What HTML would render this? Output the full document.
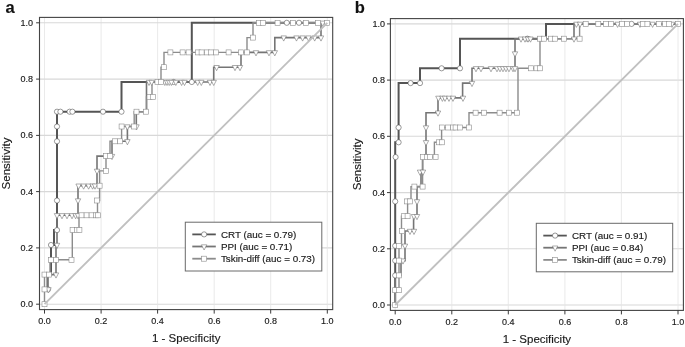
<!DOCTYPE html>
<html><head><meta charset="utf-8"><title>ROC curves</title>
<style>
html,body{margin:0;padding:0;background:#fff;}
body{width:685px;height:347px;overflow:hidden;font-family:"Liberation Sans",sans-serif;}
svg{display:block;will-change:transform;}
svg text{font-family:"Liberation Sans",sans-serif;stroke:#1a1a1a;stroke-width:0.15px;}
</style></head><body>
<svg width="685" height="347" viewBox="0 0 685 347" font-family="Liberation Sans, sans-serif">
<rect width="685" height="347" fill="#fff"/>
<line x1="44.5" y1="17.4" x2="44.5" y2="309.6" stroke="#e4e4e4" stroke-width="0.8"/>
<line x1="39.5" y1="304.2" x2="332.7" y2="304.2" stroke="#d8d8d8" stroke-width="1.1"/>
<line x1="101.1" y1="17.4" x2="101.1" y2="309.6" stroke="#e4e4e4" stroke-width="0.8"/>
<line x1="39.5" y1="247.9" x2="332.7" y2="247.9" stroke="#d8d8d8" stroke-width="1.1"/>
<line x1="157.6" y1="17.4" x2="157.6" y2="309.6" stroke="#e4e4e4" stroke-width="0.8"/>
<line x1="39.5" y1="191.6" x2="332.7" y2="191.6" stroke="#d8d8d8" stroke-width="1.1"/>
<line x1="214.2" y1="17.4" x2="214.2" y2="309.6" stroke="#e4e4e4" stroke-width="0.8"/>
<line x1="39.5" y1="135.4" x2="332.7" y2="135.4" stroke="#d8d8d8" stroke-width="1.1"/>
<line x1="270.7" y1="17.4" x2="270.7" y2="309.6" stroke="#e4e4e4" stroke-width="0.8"/>
<line x1="39.5" y1="79.1" x2="332.7" y2="79.1" stroke="#d8d8d8" stroke-width="1.1"/>
<line x1="327.3" y1="17.4" x2="327.3" y2="309.6" stroke="#e4e4e4" stroke-width="0.8"/>
<line x1="39.5" y1="22.8" x2="332.7" y2="22.8" stroke="#d8d8d8" stroke-width="1.1"/>
<path d="M44.5 289.4 L47.6 289.4 L47.6 274.6 L51 274.6 L51 245 L54 245 L54 230.1 L57 230.1 L57 111.7 L121.5 111.7 L121.5 82 L191.8 82 L191.8 22.8 L327.3 22.8" fill="none" stroke="#555" stroke-width="2.0" stroke-linejoin="miter"/>
<path d="M44.5 289.4 L47.6 289.4 L47.6 274.6 L56 274.6 L56 245 L57 245 L57 215.3 L78 215.3 L78 185.7 L97 185.7 L97 156.1 L112 156.1 L112 141.3 L127.4 141.3 L127.4 126.5 L136.3 126.5 L136.3 111.7 L146.5 111.7 L146.5 82 L213.7 82 L213.7 67.2 L241 67.2 L241 52.4 L274.8 52.4 L274.8 37.6 L321 37.6 L321 22.8 L327.3 22.8" fill="none" stroke="#757575" stroke-width="1.6" stroke-linejoin="miter"/>
<path d="M44.5 304.2 L44.5 274.6 L50 274.6 L50 259.8 L72.3 259.8 L72.3 230.1 L79 230.1 L79 215.3 L97.5 215.3 L97.5 200.5 L99.6 200.5 L99.6 170.9 L106 170.9 L106 156.1 L110 156.1 L110 141.3 L121.6 141.3 L121.6 126.5 L134.2 126.5 L134.2 111.7 L146.5 111.7 L146.5 96.9 L152 96.9 L152 82 L161 82 L161 67.2 L164 67.2 L164 52.4 L247 52.4 L247 37.6 L253 37.6 L253 22.8 L327.3 22.8" fill="none" stroke="#8c8c8c" stroke-width="1.4" stroke-linejoin="miter"/>
<circle cx="48" cy="289.4" r="2.6" fill="#fff" stroke="#555" stroke-width="0.6"/>
<circle cx="51" cy="245" r="2.6" fill="#fff" stroke="#555" stroke-width="0.6"/>
<circle cx="57" cy="230.1" r="2.6" fill="#fff" stroke="#555" stroke-width="0.6"/>
<circle cx="57" cy="200.5" r="2.6" fill="#fff" stroke="#555" stroke-width="0.6"/>
<circle cx="57" cy="141.3" r="2.6" fill="#fff" stroke="#555" stroke-width="0.6"/>
<circle cx="57" cy="126.5" r="2.6" fill="#fff" stroke="#555" stroke-width="0.6"/>
<circle cx="57" cy="111.7" r="2.6" fill="#fff" stroke="#555" stroke-width="0.6"/>
<circle cx="60.4" cy="111.7" r="2.6" fill="#fff" stroke="#555" stroke-width="0.6"/>
<circle cx="69.6" cy="111.7" r="2.6" fill="#fff" stroke="#555" stroke-width="0.6"/>
<circle cx="72.4" cy="111.7" r="2.6" fill="#fff" stroke="#555" stroke-width="0.6"/>
<circle cx="103" cy="111.7" r="2.6" fill="#fff" stroke="#555" stroke-width="0.6"/>
<circle cx="121.5" cy="111.7" r="2.6" fill="#fff" stroke="#555" stroke-width="0.6"/>
<circle cx="173.6" cy="82" r="2.6" fill="#fff" stroke="#555" stroke-width="0.6"/>
<circle cx="191.8" cy="82" r="2.6" fill="#fff" stroke="#555" stroke-width="0.6"/>
<circle cx="286.8" cy="22.8" r="2.6" fill="#fff" stroke="#555" stroke-width="0.6"/>
<circle cx="299" cy="22.8" r="2.6" fill="#fff" stroke="#555" stroke-width="0.6"/>
<path d="M45.8 287.7h5.4l-2.7 5.2z" fill="#fff" stroke="#757575" stroke-width="0.6"/>
<path d="M53.3 272.9h5.4l-2.7 5.2z" fill="#fff" stroke="#757575" stroke-width="0.6"/>
<path d="M54.3 243.3h5.4l-2.7 5.2z" fill="#fff" stroke="#757575" stroke-width="0.6"/>
<path d="M54.3 213.6h5.4l-2.7 5.2z" fill="#fff" stroke="#757575" stroke-width="0.6"/>
<path d="M59.3 213.6h5.4l-2.7 5.2z" fill="#fff" stroke="#757575" stroke-width="0.6"/>
<path d="M64.3 213.6h5.4l-2.7 5.2z" fill="#fff" stroke="#757575" stroke-width="0.6"/>
<path d="M69.3 213.6h5.4l-2.7 5.2z" fill="#fff" stroke="#757575" stroke-width="0.6"/>
<path d="M72.9 213.6h5.4l-2.7 5.2z" fill="#fff" stroke="#757575" stroke-width="0.6"/>
<path d="M75.3 213.6h5.4l-2.7 5.2z" fill="#fff" stroke="#757575" stroke-width="0.6"/>
<path d="M75.3 198.8h5.4l-2.7 5.2z" fill="#fff" stroke="#757575" stroke-width="0.6"/>
<path d="M75.9 184h5.4l-2.7 5.2z" fill="#fff" stroke="#757575" stroke-width="0.6"/>
<path d="M80.9 184h5.4l-2.7 5.2z" fill="#fff" stroke="#757575" stroke-width="0.6"/>
<path d="M85.9 184h5.4l-2.7 5.2z" fill="#fff" stroke="#757575" stroke-width="0.6"/>
<path d="M89.9 184h5.4l-2.7 5.2z" fill="#fff" stroke="#757575" stroke-width="0.6"/>
<path d="M92.3 184h5.4l-2.7 5.2z" fill="#fff" stroke="#757575" stroke-width="0.6"/>
<path d="M94.3 169.2h5.4l-2.7 5.2z" fill="#fff" stroke="#757575" stroke-width="0.6"/>
<path d="M109.3 154.4h5.4l-2.7 5.2z" fill="#fff" stroke="#757575" stroke-width="0.6"/>
<path d="M124.7 139.6h5.4l-2.7 5.2z" fill="#fff" stroke="#757575" stroke-width="0.6"/>
<path d="M124.7 124.8h5.4l-2.7 5.2z" fill="#fff" stroke="#757575" stroke-width="0.6"/>
<path d="M133.8 124.8h5.4l-2.7 5.2z" fill="#fff" stroke="#757575" stroke-width="0.6"/>
<path d="M146.3 80.3h5.4l-2.7 5.2z" fill="#fff" stroke="#757575" stroke-width="0.6"/>
<path d="M149 80.3h5.4l-2.7 5.2z" fill="#fff" stroke="#757575" stroke-width="0.6"/>
<path d="M162.1 80.3h5.4l-2.7 5.2z" fill="#fff" stroke="#757575" stroke-width="0.6"/>
<path d="M164.3 80.3h5.4l-2.7 5.2z" fill="#fff" stroke="#757575" stroke-width="0.6"/>
<path d="M166.5 80.3h5.4l-2.7 5.2z" fill="#fff" stroke="#757575" stroke-width="0.6"/>
<path d="M168.7 80.3h5.4l-2.7 5.2z" fill="#fff" stroke="#757575" stroke-width="0.6"/>
<path d="M173.1 80.3h5.4l-2.7 5.2z" fill="#fff" stroke="#757575" stroke-width="0.6"/>
<path d="M178.9 80.3h5.4l-2.7 5.2z" fill="#fff" stroke="#757575" stroke-width="0.6"/>
<path d="M181.8 80.3h5.4l-2.7 5.2z" fill="#fff" stroke="#757575" stroke-width="0.6"/>
<path d="M195 80.3h5.4l-2.7 5.2z" fill="#fff" stroke="#757575" stroke-width="0.6"/>
<path d="M198.6 80.3h5.4l-2.7 5.2z" fill="#fff" stroke="#757575" stroke-width="0.6"/>
<path d="M207.3 80.3h5.4l-2.7 5.2z" fill="#fff" stroke="#757575" stroke-width="0.6"/>
<path d="M211 80.3h5.4l-2.7 5.2z" fill="#fff" stroke="#757575" stroke-width="0.6"/>
<path d="M213.9 65.5h5.4l-2.7 5.2z" fill="#fff" stroke="#757575" stroke-width="0.6"/>
<path d="M232.3 65.5h5.4l-2.7 5.2z" fill="#fff" stroke="#757575" stroke-width="0.6"/>
<path d="M237.3 65.5h5.4l-2.7 5.2z" fill="#fff" stroke="#757575" stroke-width="0.6"/>
<path d="M253.3 50.7h5.4l-2.7 5.2z" fill="#fff" stroke="#757575" stroke-width="0.6"/>
<path d="M266.3 50.7h5.4l-2.7 5.2z" fill="#fff" stroke="#757575" stroke-width="0.6"/>
<path d="M272.1 50.7h5.4l-2.7 5.2z" fill="#fff" stroke="#757575" stroke-width="0.6"/>
<path d="M281 35.9h5.4l-2.7 5.2z" fill="#fff" stroke="#757575" stroke-width="0.6"/>
<path d="M293.8 35.9h5.4l-2.7 5.2z" fill="#fff" stroke="#757575" stroke-width="0.6"/>
<path d="M299.9 35.9h5.4l-2.7 5.2z" fill="#fff" stroke="#757575" stroke-width="0.6"/>
<path d="M305.8 35.9h5.4l-2.7 5.2z" fill="#fff" stroke="#757575" stroke-width="0.6"/>
<path d="M312 35.9h5.4l-2.7 5.2z" fill="#fff" stroke="#757575" stroke-width="0.6"/>
<path d="M318.3 35.9h5.4l-2.7 5.2z" fill="#fff" stroke="#757575" stroke-width="0.6"/>
<path d="M320 21.1h5.4l-2.7 5.2z" fill="#fff" stroke="#757575" stroke-width="0.6"/>
<rect x="42" y="301.7" width="5" height="5" fill="#fff" stroke="#8c8c8c" stroke-width="0.6"/>
<rect x="42" y="286.9" width="5" height="5" fill="#fff" stroke="#8c8c8c" stroke-width="0.6"/>
<rect x="42" y="272.1" width="5" height="5" fill="#fff" stroke="#8c8c8c" stroke-width="0.6"/>
<rect x="46.5" y="272.1" width="5" height="5" fill="#fff" stroke="#8c8c8c" stroke-width="0.6"/>
<rect x="48.5" y="257.3" width="5" height="5" fill="#fff" stroke="#8c8c8c" stroke-width="0.6"/>
<rect x="53.5" y="257.3" width="5" height="5" fill="#fff" stroke="#8c8c8c" stroke-width="0.6"/>
<rect x="69" y="257.3" width="5" height="5" fill="#fff" stroke="#8c8c8c" stroke-width="0.6"/>
<rect x="70.1" y="227.6" width="5" height="5" fill="#fff" stroke="#8c8c8c" stroke-width="0.6"/>
<rect x="74.5" y="227.6" width="5" height="5" fill="#fff" stroke="#8c8c8c" stroke-width="0.6"/>
<rect x="76.9" y="227.6" width="5" height="5" fill="#fff" stroke="#8c8c8c" stroke-width="0.6"/>
<rect x="79.1" y="212.8" width="5" height="5" fill="#fff" stroke="#8c8c8c" stroke-width="0.6"/>
<rect x="84.1" y="212.8" width="5" height="5" fill="#fff" stroke="#8c8c8c" stroke-width="0.6"/>
<rect x="89.1" y="212.8" width="5" height="5" fill="#fff" stroke="#8c8c8c" stroke-width="0.6"/>
<rect x="93.5" y="212.8" width="5" height="5" fill="#fff" stroke="#8c8c8c" stroke-width="0.6"/>
<rect x="95.5" y="212.8" width="5" height="5" fill="#fff" stroke="#8c8c8c" stroke-width="0.6"/>
<rect x="94.5" y="198" width="5" height="5" fill="#fff" stroke="#8c8c8c" stroke-width="0.6"/>
<rect x="97.1" y="183.2" width="5" height="5" fill="#fff" stroke="#8c8c8c" stroke-width="0.6"/>
<rect x="103.5" y="168.4" width="5" height="5" fill="#fff" stroke="#8c8c8c" stroke-width="0.6"/>
<rect x="103.5" y="153.6" width="5" height="5" fill="#fff" stroke="#8c8c8c" stroke-width="0.6"/>
<rect x="107.5" y="153.6" width="5" height="5" fill="#fff" stroke="#8c8c8c" stroke-width="0.6"/>
<rect x="112.5" y="138.8" width="5" height="5" fill="#fff" stroke="#8c8c8c" stroke-width="0.6"/>
<rect x="117.5" y="138.8" width="5" height="5" fill="#fff" stroke="#8c8c8c" stroke-width="0.6"/>
<rect x="119.1" y="124" width="5" height="5" fill="#fff" stroke="#8c8c8c" stroke-width="0.6"/>
<rect x="131.5" y="124" width="5" height="5" fill="#fff" stroke="#8c8c8c" stroke-width="0.6"/>
<rect x="134" y="109.2" width="5" height="5" fill="#fff" stroke="#8c8c8c" stroke-width="0.6"/>
<rect x="143.5" y="109.2" width="5" height="5" fill="#fff" stroke="#8c8c8c" stroke-width="0.6"/>
<rect x="147" y="94.4" width="5" height="5" fill="#fff" stroke="#8c8c8c" stroke-width="0.6"/>
<rect x="150.5" y="94.4" width="5" height="5" fill="#fff" stroke="#8c8c8c" stroke-width="0.6"/>
<rect x="155" y="79.5" width="5" height="5" fill="#fff" stroke="#8c8c8c" stroke-width="0.6"/>
<rect x="158.5" y="79.5" width="5" height="5" fill="#fff" stroke="#8c8c8c" stroke-width="0.6"/>
<rect x="161.5" y="64.7" width="5" height="5" fill="#fff" stroke="#8c8c8c" stroke-width="0.6"/>
<rect x="167.9" y="49.9" width="5" height="5" fill="#fff" stroke="#8c8c8c" stroke-width="0.6"/>
<rect x="180.1" y="49.9" width="5" height="5" fill="#fff" stroke="#8c8c8c" stroke-width="0.6"/>
<rect x="186.1" y="49.9" width="5" height="5" fill="#fff" stroke="#8c8c8c" stroke-width="0.6"/>
<rect x="195.5" y="49.9" width="5" height="5" fill="#fff" stroke="#8c8c8c" stroke-width="0.6"/>
<rect x="199.1" y="49.9" width="5" height="5" fill="#fff" stroke="#8c8c8c" stroke-width="0.6"/>
<rect x="204.5" y="49.9" width="5" height="5" fill="#fff" stroke="#8c8c8c" stroke-width="0.6"/>
<rect x="208.5" y="49.9" width="5" height="5" fill="#fff" stroke="#8c8c8c" stroke-width="0.6"/>
<rect x="213.5" y="49.9" width="5" height="5" fill="#fff" stroke="#8c8c8c" stroke-width="0.6"/>
<rect x="226.1" y="49.9" width="5" height="5" fill="#fff" stroke="#8c8c8c" stroke-width="0.6"/>
<rect x="238.5" y="49.9" width="5" height="5" fill="#fff" stroke="#8c8c8c" stroke-width="0.6"/>
<rect x="244.5" y="49.9" width="5" height="5" fill="#fff" stroke="#8c8c8c" stroke-width="0.6"/>
<rect x="250.5" y="35.1" width="5" height="5" fill="#fff" stroke="#8c8c8c" stroke-width="0.6"/>
<rect x="256.5" y="20.3" width="5" height="5" fill="#fff" stroke="#8c8c8c" stroke-width="0.6"/>
<rect x="260.5" y="20.3" width="5" height="5" fill="#fff" stroke="#8c8c8c" stroke-width="0.6"/>
<rect x="275.1" y="20.3" width="5" height="5" fill="#fff" stroke="#8c8c8c" stroke-width="0.6"/>
<rect x="290.5" y="20.3" width="5" height="5" fill="#fff" stroke="#8c8c8c" stroke-width="0.6"/>
<rect x="303.3" y="20.3" width="5" height="5" fill="#fff" stroke="#8c8c8c" stroke-width="0.6"/>
<rect x="315.5" y="20.3" width="5" height="5" fill="#fff" stroke="#8c8c8c" stroke-width="0.6"/>
<rect x="324.5" y="20.3" width="5" height="5" fill="#fff" stroke="#8c8c8c" stroke-width="0.6"/>
<line x1="44.5" y1="304.2" x2="327.3" y2="22.8" stroke="#c0c0c0" stroke-width="1.9"/>
<rect x="39.5" y="17.4" width="293.2" height="292.2" fill="none" stroke="#444" stroke-width="1.1"/>
<line x1="44.5" y1="309.6" x2="44.5" y2="313.6" stroke="#3a3a3a" stroke-width="1"/>
<line x1="36.1" y1="304.2" x2="39.5" y2="304.2" stroke="#3a3a3a" stroke-width="1"/>
<text x="44.5" y="324" font-size="9" text-anchor="middle" fill="#1a1a1a">0.0</text>
<text x="33" y="307.1" font-size="9" text-anchor="end" fill="#1a1a1a">0.0</text>
<line x1="101.1" y1="309.6" x2="101.1" y2="313.6" stroke="#3a3a3a" stroke-width="1"/>
<line x1="36.1" y1="247.9" x2="39.5" y2="247.9" stroke="#3a3a3a" stroke-width="1"/>
<text x="101.1" y="324" font-size="9" text-anchor="middle" fill="#1a1a1a">0.2</text>
<text x="33" y="250.8" font-size="9" text-anchor="end" fill="#1a1a1a">0.2</text>
<line x1="157.6" y1="309.6" x2="157.6" y2="313.6" stroke="#3a3a3a" stroke-width="1"/>
<line x1="36.1" y1="191.6" x2="39.5" y2="191.6" stroke="#3a3a3a" stroke-width="1"/>
<text x="157.6" y="324" font-size="9" text-anchor="middle" fill="#1a1a1a">0.4</text>
<text x="33" y="194.5" font-size="9" text-anchor="end" fill="#1a1a1a">0.4</text>
<line x1="214.2" y1="309.6" x2="214.2" y2="313.6" stroke="#3a3a3a" stroke-width="1"/>
<line x1="36.1" y1="135.4" x2="39.5" y2="135.4" stroke="#3a3a3a" stroke-width="1"/>
<text x="214.2" y="324" font-size="9" text-anchor="middle" fill="#1a1a1a">0.6</text>
<text x="33" y="138.3" font-size="9" text-anchor="end" fill="#1a1a1a">0.6</text>
<line x1="270.7" y1="309.6" x2="270.7" y2="313.6" stroke="#3a3a3a" stroke-width="1"/>
<line x1="36.1" y1="79.1" x2="39.5" y2="79.1" stroke="#3a3a3a" stroke-width="1"/>
<text x="270.7" y="324" font-size="9" text-anchor="middle" fill="#1a1a1a">0.8</text>
<text x="33" y="82" font-size="9" text-anchor="end" fill="#1a1a1a">0.8</text>
<line x1="327.3" y1="309.6" x2="327.3" y2="313.6" stroke="#3a3a3a" stroke-width="1"/>
<line x1="36.1" y1="22.8" x2="39.5" y2="22.8" stroke="#3a3a3a" stroke-width="1"/>
<text x="327.3" y="324" font-size="9" text-anchor="middle" fill="#1a1a1a">1.0</text>
<text x="33" y="25.7" font-size="9" text-anchor="end" fill="#1a1a1a">1.0</text>
<text x="186.2" y="341.8" font-size="11.5" text-anchor="middle" fill="#1a1a1a">1 - Specificity</text>
<text transform="translate(9.7 163.5) rotate(-90)" font-size="11.5" text-anchor="middle" fill="#1a1a1a">Sensitivity</text>
<rect x="185.3" y="222.2" width="136.5" height="48.8" fill="#fff" stroke="#6a6a6a" stroke-width="1"/>
<line x1="192.3" y1="234.4" x2="215.8" y2="234.4" stroke="#555" stroke-width="1.8"/>
<circle cx="204.1" cy="234.4" r="2.6" fill="#fff" stroke="#555" stroke-width="0.6"/>
<text x="220.9" y="238" font-size="9.85" fill="#1a1a1a">CRT (auc = 0.79)</text>
<line x1="192.3" y1="246.5" x2="215.8" y2="246.5" stroke="#757575" stroke-width="1.8"/>
<path d="M201.4 244.8h5.4l-2.7 5.2z" fill="#fff" stroke="#757575" stroke-width="0.6"/>
<text x="220.9" y="250" font-size="9.85" fill="#1a1a1a">PPI (auc = 0.71)</text>
<line x1="192.3" y1="258.7" x2="215.8" y2="258.7" stroke="#8c8c8c" stroke-width="1.8"/>
<rect x="201.6" y="256.2" width="5" height="5" fill="#fff" stroke="#8c8c8c" stroke-width="0.6"/>
<text x="220.9" y="262" font-size="9.85" fill="#1a1a1a">Tskin-diff (auc = 0.73)</text>
<line x1="395.2" y1="18.6" x2="395.2" y2="310.4" stroke="#e4e4e4" stroke-width="0.8"/>
<line x1="390.4" y1="305" x2="683.4" y2="305" stroke="#d8d8d8" stroke-width="1.1"/>
<line x1="451.8" y1="18.6" x2="451.8" y2="310.4" stroke="#e4e4e4" stroke-width="0.8"/>
<line x1="390.4" y1="248.8" x2="683.4" y2="248.8" stroke="#d8d8d8" stroke-width="1.1"/>
<line x1="508.3" y1="18.6" x2="508.3" y2="310.4" stroke="#e4e4e4" stroke-width="0.8"/>
<line x1="390.4" y1="192.6" x2="683.4" y2="192.6" stroke="#d8d8d8" stroke-width="1.1"/>
<line x1="564.9" y1="18.6" x2="564.9" y2="310.4" stroke="#e4e4e4" stroke-width="0.8"/>
<line x1="390.4" y1="136.3" x2="683.4" y2="136.3" stroke="#d8d8d8" stroke-width="1.1"/>
<line x1="621.4" y1="18.6" x2="621.4" y2="310.4" stroke="#e4e4e4" stroke-width="0.8"/>
<line x1="390.4" y1="80.1" x2="683.4" y2="80.1" stroke="#d8d8d8" stroke-width="1.1"/>
<line x1="678" y1="18.6" x2="678" y2="310.4" stroke="#e4e4e4" stroke-width="0.8"/>
<line x1="390.4" y1="23.9" x2="683.4" y2="23.9" stroke="#d8d8d8" stroke-width="1.1"/>
<path d="M395.2 305 L395.2 142.3 L398.6 142.3 L398.6 83.1 L420 83.1 L420 68.3 L460 68.3 L460 38.7 L546 38.7 L546 23.9 L678 23.9" fill="none" stroke="#555" stroke-width="2.0" stroke-linejoin="miter"/>
<path d="M395.2 305 L395.2 275.4 L401 275.4 L401 260.6 L405 260.6 L405 231 L413.6 231 L413.6 216.2 L417 216.2 L417 186.6 L421 186.6 L421 171.8 L422.6 171.8 L422.6 157.1 L426 157.1 L426 112.7 L438 112.7 L438 97.9 L462.6 97.9 L462.6 83.1 L472 83.1 L472 68.3 L515 68.3 L515 38.7 L574 38.7 L574 23.9 L678 23.9" fill="none" stroke="#757575" stroke-width="1.6" stroke-linejoin="miter"/>
<path d="M395.2 305 L395.2 290.2 L399 290.2 L399 245.8 L401.5 245.8 L401.5 216.2 L407.6 216.2 L407.6 201.4 L411 201.4 L411 186.6 L422.6 186.6 L422.6 157.1 L434.4 157.1 L434.4 142.3 L441.6 142.3 L441.6 127.5 L469 127.5 L469 112.7 L518 112.7 L518 68.3 L540 68.3 L540 38.7 L579.6 38.7 L579.6 23.9 L678 23.9" fill="none" stroke="#8c8c8c" stroke-width="1.4" stroke-linejoin="miter"/>
<circle cx="395.2" cy="275.4" r="2.6" fill="#fff" stroke="#555" stroke-width="0.6"/>
<circle cx="395.2" cy="260.6" r="2.6" fill="#fff" stroke="#555" stroke-width="0.6"/>
<circle cx="395.2" cy="245.8" r="2.6" fill="#fff" stroke="#555" stroke-width="0.6"/>
<circle cx="395.2" cy="201.4" r="2.6" fill="#fff" stroke="#555" stroke-width="0.6"/>
<circle cx="395.6" cy="157.1" r="2.6" fill="#fff" stroke="#555" stroke-width="0.6"/>
<circle cx="398.6" cy="142.3" r="2.6" fill="#fff" stroke="#555" stroke-width="0.6"/>
<circle cx="398.6" cy="127.5" r="2.6" fill="#fff" stroke="#555" stroke-width="0.6"/>
<circle cx="410.6" cy="83.1" r="2.6" fill="#fff" stroke="#555" stroke-width="0.6"/>
<circle cx="420" cy="83.1" r="2.6" fill="#fff" stroke="#555" stroke-width="0.6"/>
<circle cx="441.6" cy="68.3" r="2.6" fill="#fff" stroke="#555" stroke-width="0.6"/>
<circle cx="460" cy="68.3" r="2.6" fill="#fff" stroke="#555" stroke-width="0.6"/>
<circle cx="527.4" cy="38.7" r="2.6" fill="#fff" stroke="#555" stroke-width="0.6"/>
<circle cx="631.6" cy="23.9" r="2.6" fill="#fff" stroke="#555" stroke-width="0.6"/>
<path d="M400.3 258.9h5.4l-2.7 5.2z" fill="#fff" stroke="#757575" stroke-width="0.6"/>
<path d="M402.3 244.1h5.4l-2.7 5.2z" fill="#fff" stroke="#757575" stroke-width="0.6"/>
<path d="M407.3 229.3h5.4l-2.7 5.2z" fill="#fff" stroke="#757575" stroke-width="0.6"/>
<path d="M411.3 229.3h5.4l-2.7 5.2z" fill="#fff" stroke="#757575" stroke-width="0.6"/>
<path d="M411.3 214.5h5.4l-2.7 5.2z" fill="#fff" stroke="#757575" stroke-width="0.6"/>
<path d="M414.3 214.5h5.4l-2.7 5.2z" fill="#fff" stroke="#757575" stroke-width="0.6"/>
<path d="M414.3 199.7h5.4l-2.7 5.2z" fill="#fff" stroke="#757575" stroke-width="0.6"/>
<path d="M417.3 170.1h5.4l-2.7 5.2z" fill="#fff" stroke="#757575" stroke-width="0.6"/>
<path d="M420.3 170.1h5.4l-2.7 5.2z" fill="#fff" stroke="#757575" stroke-width="0.6"/>
<path d="M423.3 140.6h5.4l-2.7 5.2z" fill="#fff" stroke="#757575" stroke-width="0.6"/>
<path d="M423.3 125.8h5.4l-2.7 5.2z" fill="#fff" stroke="#757575" stroke-width="0.6"/>
<path d="M435.3 111h5.4l-2.7 5.2z" fill="#fff" stroke="#757575" stroke-width="0.6"/>
<path d="M435.7 96.2h5.4l-2.7 5.2z" fill="#fff" stroke="#757575" stroke-width="0.6"/>
<path d="M439.7 96.2h5.4l-2.7 5.2z" fill="#fff" stroke="#757575" stroke-width="0.6"/>
<path d="M442.3 96.2h5.4l-2.7 5.2z" fill="#fff" stroke="#757575" stroke-width="0.6"/>
<path d="M446.3 96.2h5.4l-2.7 5.2z" fill="#fff" stroke="#757575" stroke-width="0.6"/>
<path d="M450.3 96.2h5.4l-2.7 5.2z" fill="#fff" stroke="#757575" stroke-width="0.6"/>
<path d="M460.3 96.2h5.4l-2.7 5.2z" fill="#fff" stroke="#757575" stroke-width="0.6"/>
<path d="M469.3 81.4h5.4l-2.7 5.2z" fill="#fff" stroke="#757575" stroke-width="0.6"/>
<path d="M473.3 66.6h5.4l-2.7 5.2z" fill="#fff" stroke="#757575" stroke-width="0.6"/>
<path d="M478.3 66.6h5.4l-2.7 5.2z" fill="#fff" stroke="#757575" stroke-width="0.6"/>
<path d="M488.3 66.6h5.4l-2.7 5.2z" fill="#fff" stroke="#757575" stroke-width="0.6"/>
<path d="M494.3 66.6h5.4l-2.7 5.2z" fill="#fff" stroke="#757575" stroke-width="0.6"/>
<path d="M497.3 66.6h5.4l-2.7 5.2z" fill="#fff" stroke="#757575" stroke-width="0.6"/>
<path d="M500.3 66.6h5.4l-2.7 5.2z" fill="#fff" stroke="#757575" stroke-width="0.6"/>
<path d="M503.3 66.6h5.4l-2.7 5.2z" fill="#fff" stroke="#757575" stroke-width="0.6"/>
<path d="M506.3 66.6h5.4l-2.7 5.2z" fill="#fff" stroke="#757575" stroke-width="0.6"/>
<path d="M510.3 66.6h5.4l-2.7 5.2z" fill="#fff" stroke="#757575" stroke-width="0.6"/>
<path d="M512.3 66.6h5.4l-2.7 5.2z" fill="#fff" stroke="#757575" stroke-width="0.6"/>
<path d="M512.3 51.8h5.4l-2.7 5.2z" fill="#fff" stroke="#757575" stroke-width="0.6"/>
<path d="M518.3 37h5.4l-2.7 5.2z" fill="#fff" stroke="#757575" stroke-width="0.6"/>
<path d="M522.3 37h5.4l-2.7 5.2z" fill="#fff" stroke="#757575" stroke-width="0.6"/>
<path d="M525.3 37h5.4l-2.7 5.2z" fill="#fff" stroke="#757575" stroke-width="0.6"/>
<path d="M527.8 37h5.4l-2.7 5.2z" fill="#fff" stroke="#757575" stroke-width="0.6"/>
<path d="M571.3 37h5.4l-2.7 5.2z" fill="#fff" stroke="#757575" stroke-width="0.6"/>
<path d="M573.7 22.2h5.4l-2.7 5.2z" fill="#fff" stroke="#757575" stroke-width="0.6"/>
<path d="M577.3 22.2h5.4l-2.7 5.2z" fill="#fff" stroke="#757575" stroke-width="0.6"/>
<path d="M614.9 22.2h5.4l-2.7 5.2z" fill="#fff" stroke="#757575" stroke-width="0.6"/>
<path d="M637.3 22.2h5.4l-2.7 5.2z" fill="#fff" stroke="#757575" stroke-width="0.6"/>
<path d="M649.9 22.2h5.4l-2.7 5.2z" fill="#fff" stroke="#757575" stroke-width="0.6"/>
<path d="M669.3 22.2h5.4l-2.7 5.2z" fill="#fff" stroke="#757575" stroke-width="0.6"/>
<rect x="392.7" y="302.5" width="5" height="5" fill="#fff" stroke="#8c8c8c" stroke-width="0.6"/>
<rect x="392.7" y="287.7" width="5" height="5" fill="#fff" stroke="#8c8c8c" stroke-width="0.6"/>
<rect x="396.5" y="287.7" width="5" height="5" fill="#fff" stroke="#8c8c8c" stroke-width="0.6"/>
<rect x="396.5" y="272.9" width="5" height="5" fill="#fff" stroke="#8c8c8c" stroke-width="0.6"/>
<rect x="396.5" y="258.1" width="5" height="5" fill="#fff" stroke="#8c8c8c" stroke-width="0.6"/>
<rect x="396.5" y="243.3" width="5" height="5" fill="#fff" stroke="#8c8c8c" stroke-width="0.6"/>
<rect x="399.5" y="228.5" width="5" height="5" fill="#fff" stroke="#8c8c8c" stroke-width="0.6"/>
<rect x="401.5" y="213.7" width="5" height="5" fill="#fff" stroke="#8c8c8c" stroke-width="0.6"/>
<rect x="405.1" y="213.7" width="5" height="5" fill="#fff" stroke="#8c8c8c" stroke-width="0.6"/>
<rect x="404.3" y="198.9" width="5" height="5" fill="#fff" stroke="#8c8c8c" stroke-width="0.6"/>
<rect x="407.5" y="198.9" width="5" height="5" fill="#fff" stroke="#8c8c8c" stroke-width="0.6"/>
<rect x="411.9" y="184.1" width="5" height="5" fill="#fff" stroke="#8c8c8c" stroke-width="0.6"/>
<rect x="420.1" y="184.1" width="5" height="5" fill="#fff" stroke="#8c8c8c" stroke-width="0.6"/>
<rect x="420.5" y="154.6" width="5" height="5" fill="#fff" stroke="#8c8c8c" stroke-width="0.6"/>
<rect x="424.5" y="154.6" width="5" height="5" fill="#fff" stroke="#8c8c8c" stroke-width="0.6"/>
<rect x="427.5" y="154.6" width="5" height="5" fill="#fff" stroke="#8c8c8c" stroke-width="0.6"/>
<rect x="433.1" y="154.6" width="5" height="5" fill="#fff" stroke="#8c8c8c" stroke-width="0.6"/>
<rect x="436.5" y="139.8" width="5" height="5" fill="#fff" stroke="#8c8c8c" stroke-width="0.6"/>
<rect x="439.5" y="139.8" width="5" height="5" fill="#fff" stroke="#8c8c8c" stroke-width="0.6"/>
<rect x="439.5" y="125" width="5" height="5" fill="#fff" stroke="#8c8c8c" stroke-width="0.6"/>
<rect x="445.5" y="125" width="5" height="5" fill="#fff" stroke="#8c8c8c" stroke-width="0.6"/>
<rect x="450.5" y="125" width="5" height="5" fill="#fff" stroke="#8c8c8c" stroke-width="0.6"/>
<rect x="453.1" y="125" width="5" height="5" fill="#fff" stroke="#8c8c8c" stroke-width="0.6"/>
<rect x="457.5" y="125" width="5" height="5" fill="#fff" stroke="#8c8c8c" stroke-width="0.6"/>
<rect x="466.5" y="125" width="5" height="5" fill="#fff" stroke="#8c8c8c" stroke-width="0.6"/>
<rect x="473.1" y="110.2" width="5" height="5" fill="#fff" stroke="#8c8c8c" stroke-width="0.6"/>
<rect x="481.5" y="110.2" width="5" height="5" fill="#fff" stroke="#8c8c8c" stroke-width="0.6"/>
<rect x="497.1" y="110.2" width="5" height="5" fill="#fff" stroke="#8c8c8c" stroke-width="0.6"/>
<rect x="506.5" y="110.2" width="5" height="5" fill="#fff" stroke="#8c8c8c" stroke-width="0.6"/>
<rect x="514.5" y="110.2" width="5" height="5" fill="#fff" stroke="#8c8c8c" stroke-width="0.6"/>
<rect x="528.5" y="65.8" width="5" height="5" fill="#fff" stroke="#8c8c8c" stroke-width="0.6"/>
<rect x="534" y="65.8" width="5" height="5" fill="#fff" stroke="#8c8c8c" stroke-width="0.6"/>
<rect x="537.5" y="65.8" width="5" height="5" fill="#fff" stroke="#8c8c8c" stroke-width="0.6"/>
<rect x="537.5" y="36.2" width="5" height="5" fill="#fff" stroke="#8c8c8c" stroke-width="0.6"/>
<rect x="541.5" y="36.2" width="5" height="5" fill="#fff" stroke="#8c8c8c" stroke-width="0.6"/>
<rect x="548.5" y="36.2" width="5" height="5" fill="#fff" stroke="#8c8c8c" stroke-width="0.6"/>
<rect x="552.5" y="36.2" width="5" height="5" fill="#fff" stroke="#8c8c8c" stroke-width="0.6"/>
<rect x="561.5" y="36.2" width="5" height="5" fill="#fff" stroke="#8c8c8c" stroke-width="0.6"/>
<rect x="577.1" y="36.2" width="5" height="5" fill="#fff" stroke="#8c8c8c" stroke-width="0.6"/>
<rect x="583.2" y="21.4" width="5" height="5" fill="#fff" stroke="#8c8c8c" stroke-width="0.6"/>
<rect x="595.8" y="21.4" width="5" height="5" fill="#fff" stroke="#8c8c8c" stroke-width="0.6"/>
<rect x="603.5" y="21.4" width="5" height="5" fill="#fff" stroke="#8c8c8c" stroke-width="0.6"/>
<rect x="608.5" y="21.4" width="5" height="5" fill="#fff" stroke="#8c8c8c" stroke-width="0.6"/>
<rect x="619.5" y="21.4" width="5" height="5" fill="#fff" stroke="#8c8c8c" stroke-width="0.6"/>
<rect x="624.5" y="21.4" width="5" height="5" fill="#fff" stroke="#8c8c8c" stroke-width="0.6"/>
<rect x="640.5" y="21.4" width="5" height="5" fill="#fff" stroke="#8c8c8c" stroke-width="0.6"/>
<rect x="644.9" y="21.4" width="5" height="5" fill="#fff" stroke="#8c8c8c" stroke-width="0.6"/>
<rect x="656.3" y="21.4" width="5" height="5" fill="#fff" stroke="#8c8c8c" stroke-width="0.6"/>
<rect x="662.5" y="21.4" width="5" height="5" fill="#fff" stroke="#8c8c8c" stroke-width="0.6"/>
<rect x="666.5" y="21.4" width="5" height="5" fill="#fff" stroke="#8c8c8c" stroke-width="0.6"/>
<rect x="675.5" y="21.4" width="5" height="5" fill="#fff" stroke="#8c8c8c" stroke-width="0.6"/>
<line x1="395.2" y1="305" x2="678" y2="23.9" stroke="#c0c0c0" stroke-width="1.9"/>
<rect x="390.4" y="18.6" width="293" height="291.8" fill="none" stroke="#444" stroke-width="1.1"/>
<line x1="395.2" y1="310.4" x2="395.2" y2="314.4" stroke="#3a3a3a" stroke-width="1"/>
<line x1="387" y1="305" x2="390.4" y2="305" stroke="#3a3a3a" stroke-width="1"/>
<text x="395.2" y="324.8" font-size="9" text-anchor="middle" fill="#1a1a1a">0.0</text>
<text x="385" y="307.9" font-size="9" text-anchor="end" fill="#1a1a1a">0.0</text>
<line x1="451.8" y1="310.4" x2="451.8" y2="314.4" stroke="#3a3a3a" stroke-width="1"/>
<line x1="387" y1="248.8" x2="390.4" y2="248.8" stroke="#3a3a3a" stroke-width="1"/>
<text x="451.8" y="324.8" font-size="9" text-anchor="middle" fill="#1a1a1a">0.2</text>
<text x="385" y="251.7" font-size="9" text-anchor="end" fill="#1a1a1a">0.2</text>
<line x1="508.3" y1="310.4" x2="508.3" y2="314.4" stroke="#3a3a3a" stroke-width="1"/>
<line x1="387" y1="192.6" x2="390.4" y2="192.6" stroke="#3a3a3a" stroke-width="1"/>
<text x="508.3" y="324.8" font-size="9" text-anchor="middle" fill="#1a1a1a">0.4</text>
<text x="385" y="195.5" font-size="9" text-anchor="end" fill="#1a1a1a">0.4</text>
<line x1="564.9" y1="310.4" x2="564.9" y2="314.4" stroke="#3a3a3a" stroke-width="1"/>
<line x1="387" y1="136.3" x2="390.4" y2="136.3" stroke="#3a3a3a" stroke-width="1"/>
<text x="564.9" y="324.8" font-size="9" text-anchor="middle" fill="#1a1a1a">0.6</text>
<text x="385" y="139.2" font-size="9" text-anchor="end" fill="#1a1a1a">0.6</text>
<line x1="621.4" y1="310.4" x2="621.4" y2="314.4" stroke="#3a3a3a" stroke-width="1"/>
<line x1="387" y1="80.1" x2="390.4" y2="80.1" stroke="#3a3a3a" stroke-width="1"/>
<text x="621.4" y="324.8" font-size="9" text-anchor="middle" fill="#1a1a1a">0.8</text>
<text x="385" y="83" font-size="9" text-anchor="end" fill="#1a1a1a">0.8</text>
<line x1="678" y1="310.4" x2="678" y2="314.4" stroke="#3a3a3a" stroke-width="1"/>
<line x1="387" y1="23.9" x2="390.4" y2="23.9" stroke="#3a3a3a" stroke-width="1"/>
<text x="678" y="324.8" font-size="9" text-anchor="middle" fill="#1a1a1a">1.0</text>
<text x="385" y="26.8" font-size="9" text-anchor="end" fill="#1a1a1a">1.0</text>
<text x="536.9" y="342.6" font-size="11.5" text-anchor="middle" fill="#1a1a1a">1 - Specificity</text>
<text transform="translate(360.6 164.4) rotate(-90)" font-size="11.5" text-anchor="middle" fill="#1a1a1a">Sensitivity</text>
<rect x="536.3" y="223.3" width="136.4" height="48.5" fill="#fff" stroke="#6a6a6a" stroke-width="1"/>
<line x1="543.3" y1="235.6" x2="566.8" y2="235.6" stroke="#555" stroke-width="1.8"/>
<circle cx="555.1" cy="235.6" r="2.6" fill="#fff" stroke="#555" stroke-width="0.6"/>
<text x="571.9" y="239" font-size="9.85" fill="#1a1a1a">CRT (auc = 0.91)</text>
<line x1="543.3" y1="247.7" x2="566.8" y2="247.7" stroke="#757575" stroke-width="1.8"/>
<path d="M552.4 246h5.4l-2.7 5.2z" fill="#fff" stroke="#757575" stroke-width="0.6"/>
<text x="571.9" y="251" font-size="9.85" fill="#1a1a1a">PPI (auc = 0.84)</text>
<line x1="543.3" y1="259.9" x2="566.8" y2="259.9" stroke="#8c8c8c" stroke-width="1.8"/>
<rect x="552.6" y="257.4" width="5" height="5" fill="#fff" stroke="#8c8c8c" stroke-width="0.6"/>
<text x="571.9" y="263" font-size="9.85" fill="#1a1a1a">Tskin-diff (auc = 0.79)</text>
<text x="5.5" y="12.8" font-size="16.5" font-weight="bold" fill="#111">a</text>
<text x="354.8" y="13" font-size="16.5" font-weight="bold" fill="#111">b</text>
</svg>
</body></html>
